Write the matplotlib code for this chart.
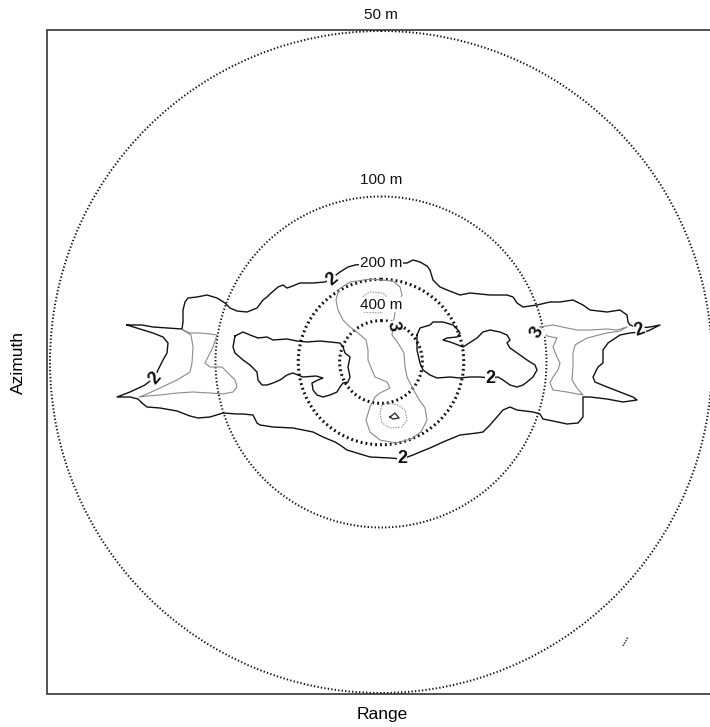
import matplotlib
matplotlib.use("Agg")
import matplotlib.pyplot as plt
from matplotlib.patches import Circle

plt.rcParams['font.family'] = ['Liberation Sans', 'DejaVu Sans']

# ---- data (coordinates in the range/azimuth plane of the scan, azimuth axis downward) ----
RADAR_X, RADAR_Y = 381, 362          # radar position
RING_RANGES = [50, 100, 200, 400]     # metres
RING_LABELS = ["50 m", "100 m", "200 m", "400 m"]
RING_SCALE = 331 * 50                 # ring radius = RING_SCALE / range

# contour level 2 : outer envelope
C2_OUT_X = [127,142,153,168,182,183,183,185,188,197,207,217,225,230,237,247,257,263,267,270,278,283,287,290,300,313,325,332,340,348,355,365,380,395,407,413,420,427,430,433,440,447,460,470,490,507,513,517,523,537,550,560,573,583,590,607,620,627,628,630,640,650,660,648,640,630,620,608,603,603,598,593,595,607,620,633,637,623,607,590,583,583,583,578,567,553,543,540,533,517,510,503,497,490,483,477,460,443,430,420,413,402,390,370,357,347,340,335,323,313,293,273,260,257,253,243,237,223,210,198,190,177,160,147,142,138,130,117,130,145,155,158,163,167,168,163,153,140,127]
C2_OUT_Y = [325,325,327,328,329,322,310,302,298,297,295,298,303,308,311,312,308,300,297,294,287,285,288,287,283,283,282,278,272,267,265,264,263,263,263,260,262,266,270,280,287,290,295,293,295,295,297,303,307,305,302,302,300,305,310,312,310,315,322,325,328,327,325,331,332,333,335,343,350,363,367,377,382,387,392,397,400,402,399,397,397,407,417,423,424,421,419,414,412,410,407,410,417,425,432,433,435,442,448,452,455,459,458,457,453,450,445,442,437,432,428,427,425,423,415,414,414,413,417,418,416,411,408,407,403,399,397,397,392,385,377,370,360,353,343,337,333,329,325]
# contour level 2 : left hole
C2_HL_X = [235,243,250,258,267,273,287,297,307,320,330,340,343,345,350,348,350,348,343,340,337,330,323,317,313,312,318,323,316,303,293,287,280,273,267,262,258,257,250,243,235,233,235]
C2_HL_Y = [336,332,335,338,337,340,339,341,342,341,342,343,347,353,357,367,377,382,383,387,392,395,397,395,390,383,380,378,376,377,373,375,380,383,385,385,380,372,365,360,353,347,336]
# contour level 2 : right hole
C2_HR_X = [417,420,430,433,443,453,458,460,457,447,443,450,453,463,477,483,490,500,507,510,507,510,520,527,535,537,533,527,523,517,510,503,498,490,480,470,460,450,437,430,423,420,417,417,417]
C2_HR_Y = [335,328,325,322,322,325,330,333,337,338,340,342,343,347,338,332,330,332,335,340,343,348,355,360,365,370,377,382,385,387,385,380,377,378,377,377,378,377,378,375,370,363,350,340,335]

# contour level 3
C3_MID_X = [393,392,398,404,405,407,411,418,425,427,421,411,396,380,370,366,370,375,380,390,387,375,372,368,368,366,358,350,343,338,336,339,350,371,393,400,402,398,395,393]
C3_MID_Y = [326,335,343,353,367,377,385,398,408,420,432,439,443,440,432,420,407,397,393,388,382,377,370,360,350,340,333,327,320,310,300,289,282,279,281,287,295,303,312,326]
C3_LEFT_X = [183,190,200,210,217,213,210,205,210,222,227,235,237,233,223,210,193,177,160,147,139,147,160,177,190,192,193,191,183]
C3_LEFT_Y = [330,333,333,334,335,347,353,363,367,367,372,380,387,392,394,393,392,393,395,396,397,394,388,380,372,363,347,335,330]
C3_RIGHT_X = [540,553,567,577,590,607,617,627,620,607,587,575,573,573,572,577,583,567,553,550,553,558,560,557,553,557,547,540]
C3_RIGHT_Y = [327,325,328,330,330,329,330,327,331,333,338,345,353,367,380,388,395,392,390,383,377,370,363,357,347,338,336,327]

# contour level 4 and 5
C4_TOP_X = [362,360,363,380,388,390,383,370,362]
C4_TOP_Y = [297,305,312,313,308,300,293,292,297]
C4_BOT_X = [382,380,382,390,402,407,405,398,388,382]
C4_BOT_Y = [405,413,423,428,427,420,410,405,403,405]
C5_X = [390,395,399,393,390]
C5_Y = [417,413,418,419,417]
SPECK_X = [623,628]
SPECK_Y = [646,637]

# contour labels
CLAB_TEXT = ["2", "2", "2", "2", "2", "3", "3"]
CLAB_X = [332, 155, 402, 490, 640, 393, 537]
CLAB_Y = [279, 378, 459, 379, 330, 326, 332]
CLAB_ROT = [40, 50, 0, 0, 20, -80, 60]

# ---- figure ----
W, H = 710, 727
X0, X1, Y0, Y1 = 47.5, 716, 30, 694
fig = plt.figure(figsize=(W / 100, H / 100), dpi=100)
ax = fig.add_axes([X0 / W, (H - Y1) / H, (X1 - X0) / W, (Y1 - Y0) / H])
ax.set_xlim(X0, X1)
ax.set_ylim(Y1, Y0)
ax.set_xticks([])
ax.set_yticks([])
for s in ax.spines.values():
    s.set_linewidth(1.1)
    s.set_color('#222222')

# range rings
for rng, lab in zip(RING_RANGES, RING_LABELS):
    rad = RING_SCALE / rng
    if rng <= 100:
        circ = Circle((RADAR_X, RADAR_Y), rad, fill=False, ec='#111111', lw=1.4,
                      ls=(0, (0.7, 1.1)))
    else:
        circ = Circle((RADAR_X, RADAR_Y), rad, fill=False, ec='#111111', lw=2.2,
                      ls=(0, (0.6, 1.0)))
    ax.add_patch(circ)
    ax.text(RADAR_X, RADAR_Y - rad - 16, lab, ha='center', va='center', fontsize=11,
            color='#111111', clip_on=False, zorder=6,
            bbox=dict(facecolor='white', edgecolor='none', pad=0.3) if rng > 50 else None)

# contour lines
for xs, ys in [(C2_OUT_X, C2_OUT_Y), (C2_HL_X, C2_HL_Y), (C2_HR_X, C2_HR_Y)]:
    ax.plot(xs, ys, color='#111111', lw=1.0, solid_joinstyle='round', zorder=3)
for xs, ys in [(C3_MID_X, C3_MID_Y), (C3_LEFT_X, C3_LEFT_Y), (C3_RIGHT_X, C3_RIGHT_Y)]:
    ax.plot(xs, ys, color='#8a8a8a', lw=0.8, zorder=2)
for xs, ys in [(C4_TOP_X, C4_TOP_Y), (C4_BOT_X, C4_BOT_Y)]:
    ax.plot(xs, ys, color='#9a9a9a', lw=0.8, ls=(0, (1.5, 1)), zorder=2)
ax.plot(C5_X, C5_Y, color='#333333', lw=1.0, zorder=3)
ax.plot(SPECK_X, SPECK_Y, color='#555555', lw=1.2, ls=(0, (1, 0.6)), zorder=2)

for t, x, y, r in zip(CLAB_TEXT, CLAB_X, CLAB_Y, CLAB_ROT):
    ax.text(x, y, t, ha='center', va='center', rotation=r, fontsize=13, fontweight='bold',
            color='#111111', zorder=7,
            bbox=dict(facecolor='white', edgecolor='none', pad=0.1))

fig.text(382 / W, 1 - 714 / H, "Range", ha='center', va='center', fontsize=12.5)
fig.text(18 / W, 1 - 362 / H, "Azimuth", ha='center', va='center', fontsize=12.5, rotation=90)

fig.savefig("out.png", dpi=100)
